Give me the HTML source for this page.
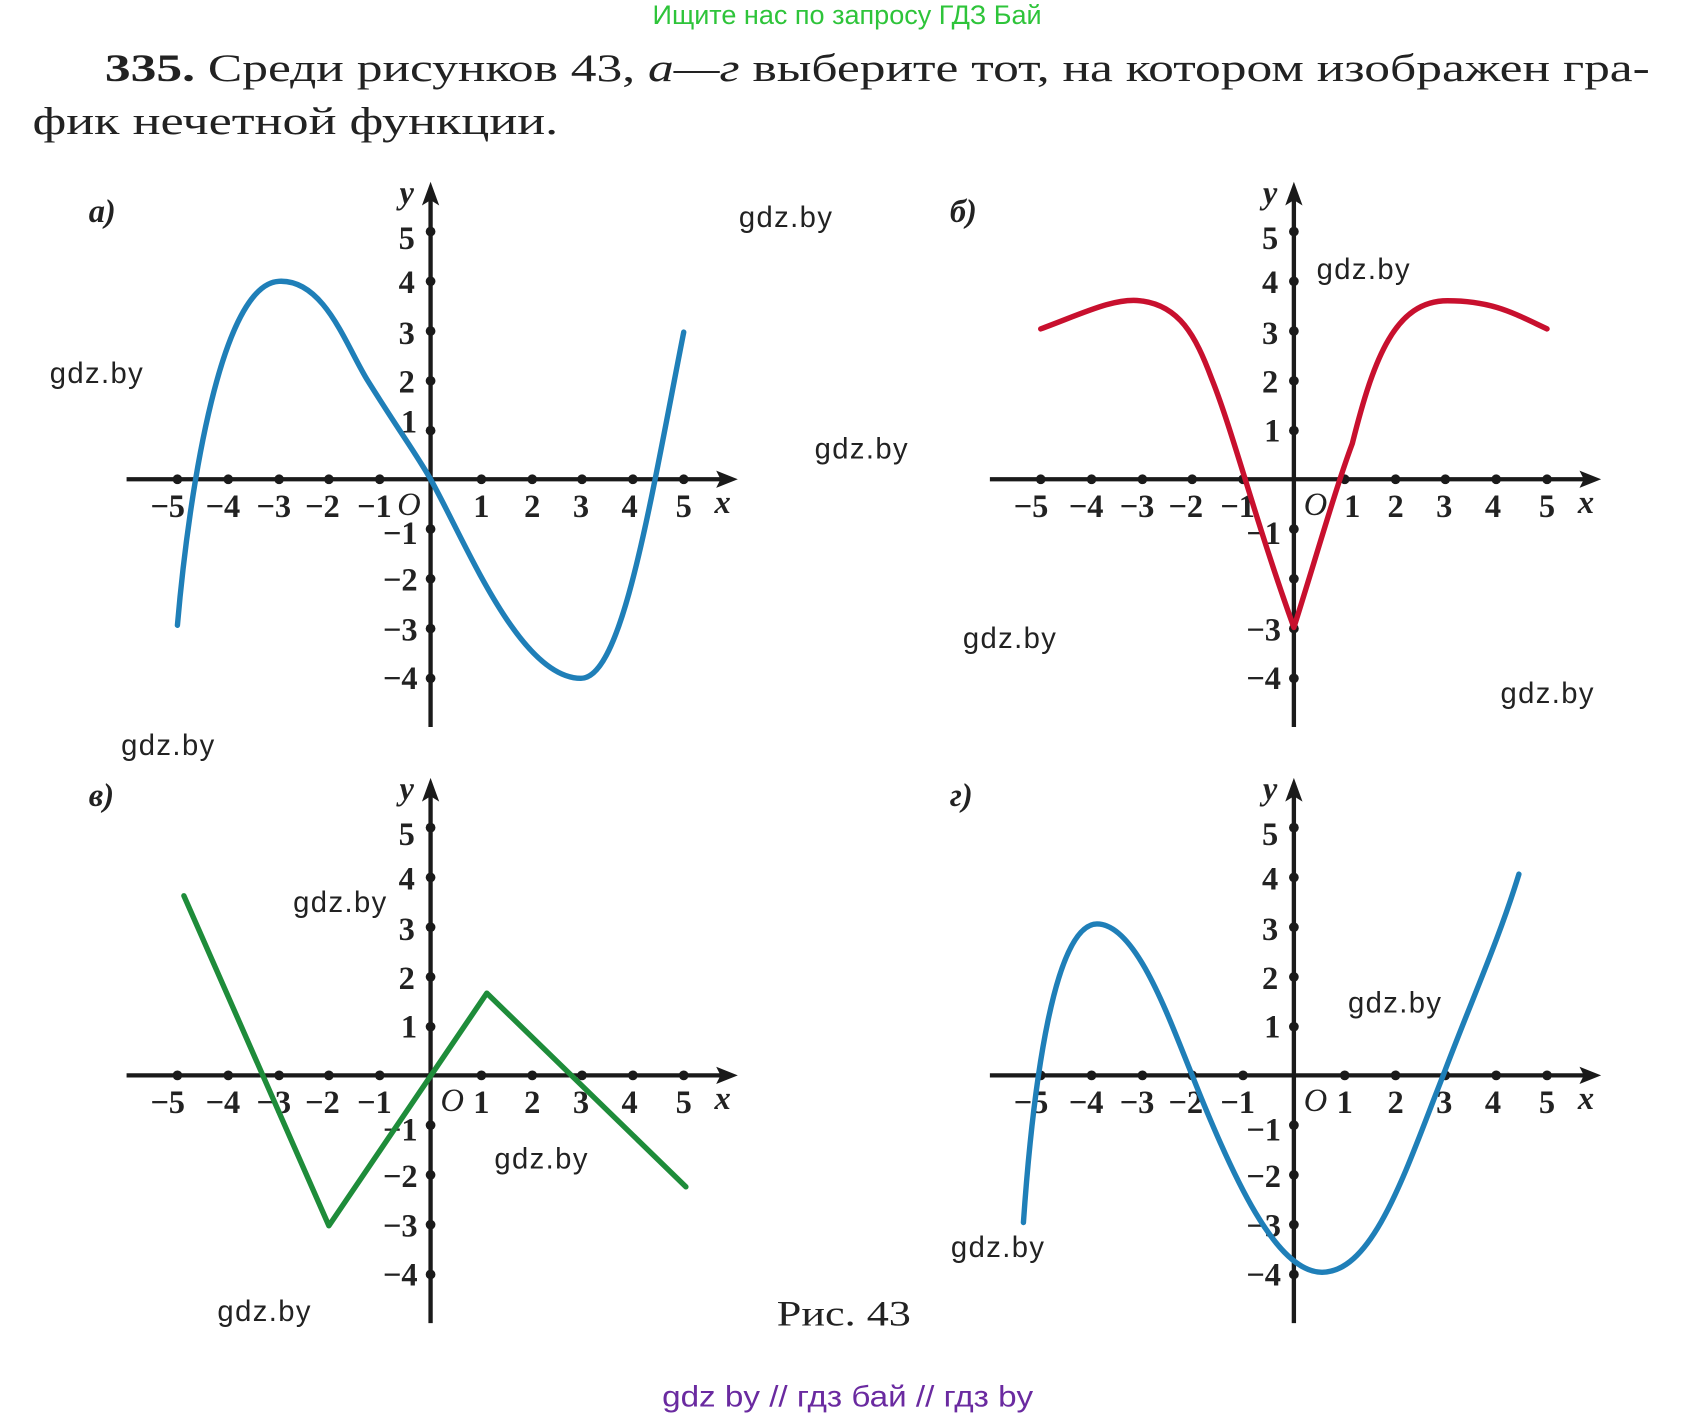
<!DOCTYPE html>
<html><head><meta charset="utf-8"><style>
html,body{margin:0;padding:0;background:#fff;}
svg{display:block;}
.t{font-family:"Liberation Serif",serif;font-weight:bold;font-size:30px;fill:#222;text-anchor:middle;}
.i{font-style:italic;}
.w{font-family:"Liberation Sans",sans-serif;font-size:27px;fill:#222;}
</style></head><body>
<svg width="1692" height="1414" viewBox="0 0 1564 1307" preserveAspectRatio="none" xmlns="http://www.w3.org/2000/svg">
<text x="783" y="22" font-family="Liberation Sans,sans-serif" font-size="25" fill="#2ec43a" text-anchor="middle">Ищите нас по запросу ГДЗ Бай</text>
<text x="97" y="75" font-family="Liberation Serif,serif" font-size="36" fill="#222" textLength="1428" lengthAdjust="spacingAndGlyphs"><tspan font-weight="bold">335.</tspan> Среди рисунков 43, <tspan font-style="italic">а—г</tspan> выберите тот, на котором изображен гра-</text>
<text x="30" y="124" font-family="Liberation Serif,serif" font-size="36" fill="#222" textLength="486" lengthAdjust="spacingAndGlyphs">фик нечетной функции.</text>

<g>
<g stroke="#1a1a1a" stroke-width="4" fill="none">
<line x1="117" y1="443" x2="672" y2="443"/><line x1="398" y1="672" x2="398" y2="180"/>
</g>
<path d="M682,443 L662,435 L666,443 L662,451Z M398,168 L390,190 L398,185 L406,190Z" fill="#1a1a1a"/>
<g fill="#1a1a1a">
<circle cx="164" cy="443" r="4.5"/><circle cx="211" cy="443" r="4.5"/><circle cx="258" cy="443" r="4.5"/><circle cx="304" cy="443" r="4.5"/><circle cx="351" cy="443" r="4.5"/><circle cx="445" cy="443" r="4.5"/><circle cx="492" cy="443" r="4.5"/><circle cx="538" cy="443" r="4.5"/><circle cx="585" cy="443" r="4.5"/><circle cx="632" cy="443" r="4.5"/>
<circle cx="398" cy="214" r="4.5"/><circle cx="398" cy="260" r="4.5"/><circle cx="398" cy="306" r="4.5"/><circle cx="398" cy="352" r="4.5"/><circle cx="398" cy="398" r="4.5"/><circle cx="398" cy="489" r="4.5"/><circle cx="398" cy="535" r="4.5"/><circle cx="398" cy="581" r="4.5"/><circle cx="398" cy="627" r="4.5"/>
</g>
<g class="t">
<text x="155" y="478">−5</text><text x="206" y="478">−4</text><text x="253" y="478">−3</text><text x="298" y="478">−2</text><text x="346" y="478">−1</text><text x="378" y="476" class="i" font-weight="normal">O</text>
<text x="445" y="478">1</text><text x="492" y="478">2</text><text x="537" y="478">3</text><text x="582" y="478">4</text><text x="632" y="478">5</text><text x="668" y="474" class="i">x</text>
<text x="376" y="188" class="i">y</text><text x="376" y="230">5</text><text x="376" y="271">4</text><text x="376" y="318">3</text><text x="376" y="363">2</text><text x="378" y="400">1</text>
<text x="370" y="503">−1</text><text x="370" y="546">−2</text><text x="370" y="592">−3</text><text x="370" y="637">−4</text>
</g>
</g>
<g transform="translate(798,0)">
<g stroke="#1a1a1a" stroke-width="4" fill="none">
<line x1="117" y1="443" x2="672" y2="443"/><line x1="398" y1="672" x2="398" y2="180"/>
</g>
<path d="M682,443 L662,435 L666,443 L662,451Z M398,168 L390,190 L398,185 L406,190Z" fill="#1a1a1a"/>
<g fill="#1a1a1a">
<circle cx="164" cy="443" r="4.5"/><circle cx="211" cy="443" r="4.5"/><circle cx="258" cy="443" r="4.5"/><circle cx="304" cy="443" r="4.5"/><circle cx="351" cy="443" r="4.5"/><circle cx="445" cy="443" r="4.5"/><circle cx="492" cy="443" r="4.5"/><circle cx="538" cy="443" r="4.5"/><circle cx="585" cy="443" r="4.5"/><circle cx="632" cy="443" r="4.5"/>
<circle cx="398" cy="214" r="4.5"/><circle cx="398" cy="260" r="4.5"/><circle cx="398" cy="306" r="4.5"/><circle cx="398" cy="352" r="4.5"/><circle cx="398" cy="398" r="4.5"/><circle cx="398" cy="489" r="4.5"/><circle cx="398" cy="535" r="4.5"/><circle cx="398" cy="581" r="4.5"/><circle cx="398" cy="627" r="4.5"/>
</g>
<g class="t">
<text x="155" y="478">−5</text><text x="206" y="478">−4</text><text x="253" y="478">−3</text><text x="298" y="478">−2</text><text x="346" y="478">−1</text><text x="418" y="476" class="i" font-weight="normal">O</text>
<text x="452" y="478">1</text><text x="492" y="478">2</text><text x="537" y="478">3</text><text x="582" y="478">4</text><text x="632" y="478">5</text><text x="668" y="474" class="i">x</text>
<text x="376" y="188" class="i">y</text><text x="376" y="230">5</text><text x="376" y="271">4</text><text x="376" y="318">3</text><text x="376" y="363">2</text><text x="378" y="408">1</text>
<text x="370" y="503">−1</text><text x="370" y="592">−3</text><text x="370" y="637">−4</text>
</g>
</g>
<g transform="translate(0,551)">
<g stroke="#1a1a1a" stroke-width="4" fill="none">
<line x1="117" y1="443" x2="672" y2="443"/><line x1="398" y1="672" x2="398" y2="180"/>
</g>
<path d="M682,443 L662,435 L666,443 L662,451Z M398,168 L390,190 L398,185 L406,190Z" fill="#1a1a1a"/>
<g fill="#1a1a1a">
<circle cx="164" cy="443" r="4.5"/><circle cx="211" cy="443" r="4.5"/><circle cx="258" cy="443" r="4.5"/><circle cx="304" cy="443" r="4.5"/><circle cx="351" cy="443" r="4.5"/><circle cx="445" cy="443" r="4.5"/><circle cx="492" cy="443" r="4.5"/><circle cx="538" cy="443" r="4.5"/><circle cx="585" cy="443" r="4.5"/><circle cx="632" cy="443" r="4.5"/>
<circle cx="398" cy="214" r="4.5"/><circle cx="398" cy="260" r="4.5"/><circle cx="398" cy="306" r="4.5"/><circle cx="398" cy="352" r="4.5"/><circle cx="398" cy="398" r="4.5"/><circle cx="398" cy="489" r="4.5"/><circle cx="398" cy="535" r="4.5"/><circle cx="398" cy="581" r="4.5"/><circle cx="398" cy="627" r="4.5"/>
</g>
<g class="t">
<text x="155" y="478">−5</text><text x="206" y="478">−4</text><text x="253" y="478">−3</text><text x="298" y="478">−2</text><text x="346" y="478">−1</text><text x="418" y="476" class="i" font-weight="normal">O</text>
<text x="445" y="478">1</text><text x="492" y="478">2</text><text x="537" y="478">3</text><text x="582" y="478">4</text><text x="632" y="478">5</text><text x="668" y="474" class="i">x</text>
<text x="376" y="188" class="i">y</text><text x="376" y="230">5</text><text x="376" y="271">4</text><text x="376" y="318">3</text><text x="376" y="363">2</text><text x="378" y="408">1</text>
<text x="370" y="503">−1</text><text x="370" y="546">−2</text><text x="370" y="592">−3</text><text x="370" y="637">−4</text>
</g>
</g>
<g transform="translate(798,551)">
<g stroke="#1a1a1a" stroke-width="4" fill="none">
<line x1="117" y1="443" x2="672" y2="443"/><line x1="398" y1="672" x2="398" y2="180"/>
</g>
<path d="M682,443 L662,435 L666,443 L662,451Z M398,168 L390,190 L398,185 L406,190Z" fill="#1a1a1a"/>
<g fill="#1a1a1a">
<circle cx="164" cy="443" r="4.5"/><circle cx="211" cy="443" r="4.5"/><circle cx="258" cy="443" r="4.5"/><circle cx="304" cy="443" r="4.5"/><circle cx="351" cy="443" r="4.5"/><circle cx="445" cy="443" r="4.5"/><circle cx="492" cy="443" r="4.5"/><circle cx="538" cy="443" r="4.5"/><circle cx="585" cy="443" r="4.5"/><circle cx="632" cy="443" r="4.5"/>
<circle cx="398" cy="214" r="4.5"/><circle cx="398" cy="260" r="4.5"/><circle cx="398" cy="306" r="4.5"/><circle cx="398" cy="352" r="4.5"/><circle cx="398" cy="398" r="4.5"/><circle cx="398" cy="489" r="4.5"/><circle cx="398" cy="535" r="4.5"/><circle cx="398" cy="581" r="4.5"/><circle cx="398" cy="627" r="4.5"/>
</g>
<g class="t">
<text x="155" y="478">−5</text><text x="206" y="478">−4</text><text x="253" y="478">−3</text><text x="298" y="478">−2</text><text x="346" y="478">−1</text><text x="418" y="476" class="i" font-weight="normal">O</text>
<text x="445" y="478">1</text><text x="492" y="478">2</text><text x="537" y="478">3</text><text x="582" y="478">4</text><text x="632" y="478">5</text><text x="668" y="474" class="i">x</text>
<text x="376" y="188" class="i">y</text><text x="376" y="230">5</text><text x="376" y="271">4</text><text x="376" y="318">3</text><text x="376" y="363">2</text><text x="378" y="408">1</text>
<text x="370" y="503">−1</text><text x="370" y="546">−2</text><text x="370" y="592">−3</text><text x="370" y="637">−4</text>
</g>
</g>

<g fill="none" stroke-width="5" stroke-linecap="round" stroke-linejoin="round">
<path stroke="#1f7fb8" d="M164,578 C175,450 205,262 258,260 C300,258 320,320 340,352 C370,400 385,420 398,443 C430,500 480,627 537,627 C575,627 600,470 632,307"/>
<path stroke="#c8102e" d="M962,304 C1000,290 1030,275 1054,278 C1090,282 1105,310 1120,350 C1140,400 1160,480 1196,580 C1215,520 1235,450 1250,410 C1270,330 1290,278 1338,278 C1380,278 1400,290 1430,304"/>
<path stroke="#1e8c3a" d="M170,828 L304,1133 L450,918 L634,1097"/>
<path stroke="#1f7fb8" d="M946,1130 C955,1000 975,854 1014,854 C1050,854 1080,940 1102,994 C1140,1090 1180,1176 1222,1176 C1270,1176 1300,1080 1334,994 C1360,925 1385,870 1404,808"/>
</g>

<g font-family="Liberation Serif,serif" font-weight="bold" font-style="italic" font-size="30" fill="#222">
<text x="82" y="205">а)</text><text x="878" y="205">б)</text><text x="82" y="745">в)</text><text x="878" y="745">г)</text>
</g>
<text x="718" y="1225" font-family="Liberation Serif,serif" font-size="33" fill="#222" textLength="124" lengthAdjust="spacingAndGlyphs">Рис. 43</text>

<g class="w">
<text x="683" y="210" textLength="86">gdz.by</text><text x="46" y="354" textLength="86">gdz.by</text><text x="753" y="424" textLength="86">gdz.by</text><text x="112" y="698" textLength="86">gdz.by</text>
<text x="1217" y="258" textLength="86">gdz.by</text><text x="890" y="599" textLength="86">gdz.by</text><text x="1387" y="650" textLength="86">gdz.by</text>
<text x="271" y="843" textLength="86">gdz.by</text><text x="457" y="1080" textLength="86">gdz.by</text><text x="201" y="1221" textLength="86">gdz.by</text>
<text x="1246" y="936" textLength="86">gdz.by</text><text x="879" y="1162" textLength="86">gdz.by</text>
</g>
<text x="612" y="1300" font-family="Liberation Sans,sans-serif" font-size="27" fill="#6a2aa0" textLength="343" lengthAdjust="spacingAndGlyphs">gdz by  //  гдз бай  //  гдз by</text>
</svg>
</body></html>
